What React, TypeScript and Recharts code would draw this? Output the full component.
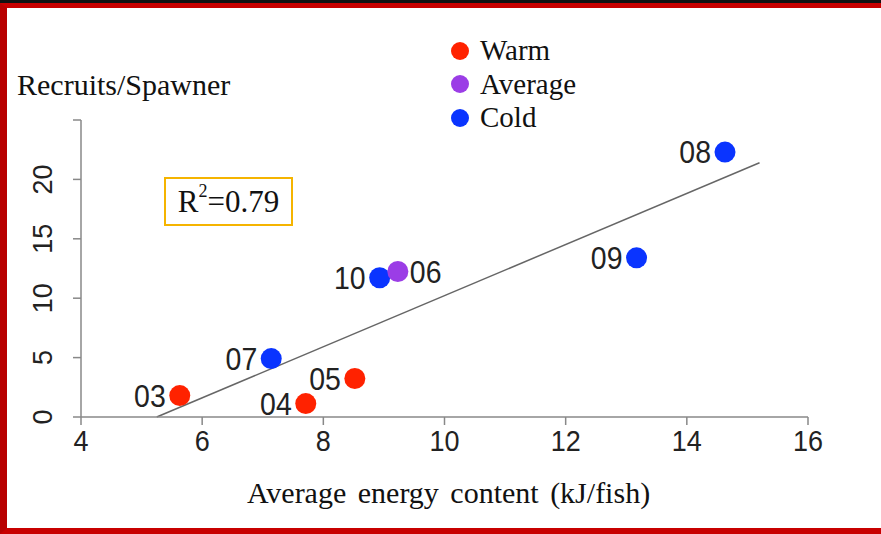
import React from 'react';
import { ScatterChart, Scatter, XAxis, YAxis, ReferenceLine, Legend } from 'recharts';

// years grouped by ocean condition
const warmYears = ['03', '04', '05'];
const warmEnergy = [5.63, 7.71, 8.52];
const warmRecruits = [1.8, 1.13, 3.24];

const averageYears = ['06'];
const averageEnergy = [9.23];
const averageRecruits = [12.25];

const coldYears = ['07', '10', '09', '08'];
const coldEnergy = [7.14, 8.93, 13.17, 14.63];
const coldRecruits = [4.92, 11.72, 13.4, 22.3];

// regression line end points
const fitEnergy = [5.25, 15.2];
const fitRecruits = [0, 21.4];

const xTicks = [4, 6, 8, 10, 12, 14, 16];
const yTicks = [0, 5, 10, 15, 20, 25];

const seasonNames = ['Warm', 'Average', 'Cold'];
const seasonColors = ['#ff2200', '#9b3de6', '#0a34ff'];

const labelRight = ['06'];

const SANS = '"Liberation Sans", Arial, sans-serif';
const SERIF = '"Liberation Serif", "Times New Roman", serif';

const toPoints = (years: string[], xs: number[], ys: number[]) =>
  years.map((label, i) => ({ label, x: xs[i], y: ys[i] }));

const makeDot = (color: string) => (props: any) => {
  const { cx, cy, payload } = props;
  const right = labelRight.includes(payload.label);
  const tx = right ? cx + 12 : cx - 14;
  return (
    <g>
      <circle cx={cx} cy={cy} r={10.5} fill={color} />
      <text
        transform={`translate(${tx},${cy}) scale(1,1.12)`}
        textAnchor={right ? 'start' : 'end'}
        dominantBaseline="central"
        fontSize={28.5}
        fontFamily={SANS}
        fill="#222"
      >
        {payload.label}
      </text>
    </g>
  );
};

const XTick = (props: any) => {
  const { x, y, payload } = props;
  return (
    <text
      transform={`translate(${x},${y + 13}) scale(1,1.12)`}
      textAnchor="middle"
      dominantBaseline="central"
      fontSize={27}
      fontFamily={SANS}
      fill="#222"
    >
      {payload.value}
    </text>
  );
};

const YTick = (props: any) => {
  const { x, y, payload } = props;
  if (payload.value === 25) return null;
  return (
    <text
      transform={`translate(${x - 28},${y}) rotate(-90)`}
      textAnchor="middle"
      dominantBaseline="central"
      fontSize={27}
      fontFamily={SANS}
      fill="#222"
    >
      {payload.value}
    </text>
  );
};

const LegendBox = () => (
  <div style={{ fontFamily: SERIF, fontSize: 29, color: '#111' }}>
    {seasonNames.map((name, i) => (
      <div key={name} style={{ display: 'flex', alignItems: 'center', height: 33.5 }}>
        <span
          style={{
            width: 18,
            height: 18,
            borderRadius: 9,
            background: seasonColors[i],
            marginRight: 11,
            display: 'inline-block',
          }}
        />
        {name}
      </div>
    ))}
  </div>
);

export default function App() {
  const warm = toPoints(warmYears, warmEnergy, warmRecruits);
  const average = toPoints(averageYears, averageEnergy, averageRecruits);
  const cold = toPoints(coldYears, coldEnergy, coldRecruits);

  return (
    <div style={{ position: 'absolute', left: 0, top: 0, width: 881, height: 534, background: '#fff' }}>
      <div
        style={{
          position: 'absolute',
          inset: 0,
          borderTop: '3px solid #111',
        }}
      />
      <div
        style={{
          position: 'absolute',
          left: 0,
          top: 3,
          width: 881,
          height: 531,
          boxSizing: 'border-box',
          borderTop: '5px solid #c80000',
          borderLeft: '7px solid #b80000',
          borderBottom: '6px solid #c80000',
        }}
      />
      <div style={{ position: 'absolute', left: 0, top: 0 }}>
        <ScatterChart width={881} height={534} margin={{ top: 120, right: 73, left: 21, bottom: 57 }}>
          <XAxis
            type="number"
            dataKey="x"
            domain={[4, 16]}
            ticks={xTicks}
            allowDataOverflow
            height={60}
            stroke="#888"
            strokeWidth={1.5}
            tickSize={8}
            tickMargin={2}
            tick={<XTick />}
            label={(p: any) => {
              const vb = p.viewBox;
              return (
                <text
                  x={vb.x + vb.width / 2 + 4}
                  y={vb.y + 86}
                  textAnchor="middle"
                  fontSize={30}
                  fontFamily={SERIF}
                  fill="#111"
                  style={{ wordSpacing: 4 }}
                >
                  Average energy content (kJ/fish)
                </text>
              );
            }}
          />
          <YAxis
            type="number"
            dataKey="y"
            domain={[0, 25]}
            ticks={yTicks}
            allowDataOverflow
            width={60}
            stroke="#888"
            strokeWidth={1.5}
            tickSize={8}
            tickMargin={2}
            tick={<YTick />}
            label={(p: any) => {
              const vb = p.viewBox;
              return (
                <text x={vb.x - 4} y={vb.y - 25} fontSize={30} fontFamily={SERIF} fill="#111">
                  Recruits/Spawner
                </text>
              );
            }}
          />
          <Legend
            layout="vertical"
            align="center"
            verticalAlign="middle"
            content={() => <LegendBox />}
            wrapperStyle={{ left: 451, top: 34, width: 200 }}
          />
          <ReferenceLine
            segment={[
              { x: fitEnergy[0], y: fitRecruits[0] },
              { x: fitEnergy[1], y: fitRecruits[1] },
            ]}
            stroke="#666"
            strokeWidth={1.5}
          />
          <Scatter name="Cold" data={cold} fill={seasonColors[2]} shape={makeDot(seasonColors[2])} isAnimationActive={false} />
          <Scatter name="Warm" data={warm} fill={seasonColors[0]} shape={makeDot(seasonColors[0])} isAnimationActive={false} />
          <Scatter name="Average" data={average} fill={seasonColors[1]} shape={makeDot(seasonColors[1])} isAnimationActive={false} />
        </ScatterChart>
      </div>
      <div
        style={{
          position: 'absolute',
          left: 164,
          top: 177,
          width: 129,
          height: 49,
          boxSizing: 'border-box',
          border: '2.5px solid #f5b400',
          display: 'flex',
          alignItems: 'center',
          justifyContent: 'center',
          fontFamily: SERIF,
          fontSize: 31,
          color: '#111',
        }}
      >
        <span>
          R<sup style={{ fontSize: 18, verticalAlign: 'top', position: 'relative', top: -3 }}>2</sup>=0.79
        </span>
      </div>
    </div>
  );
}
